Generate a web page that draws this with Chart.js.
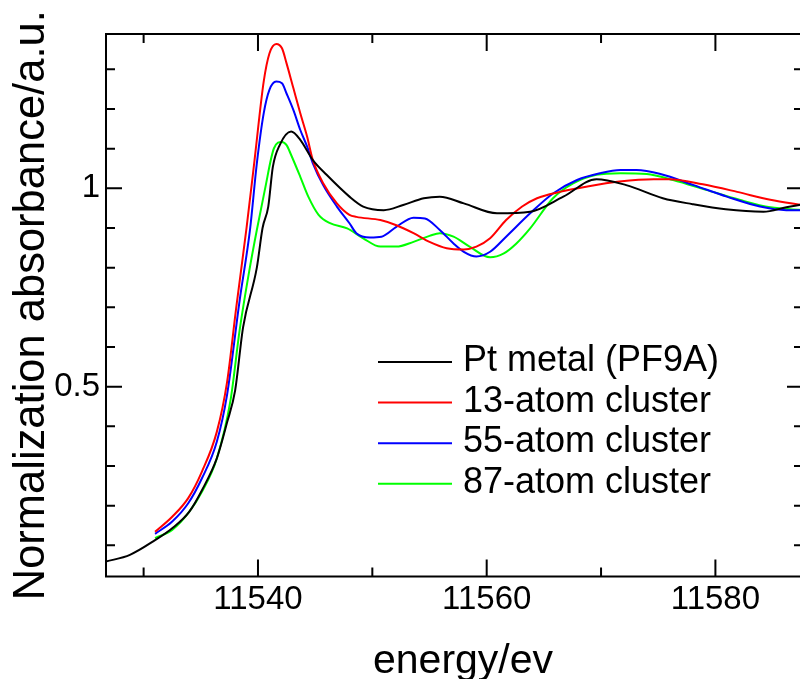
<!DOCTYPE html>
<html>
<head>
<meta charset="utf-8">
<style>
  html, body { margin: 0; padding: 0; overflow: hidden; background: #fff; }
  canvas { display: block; }
</style>
</head>
<body>
<canvas id="chart" width="803" height="680"></canvas>
<script src="https://cdn.jsdelivr.net/npm/chart.js@4.4.0/dist/chart.umd.min.js"></script>
<script>
// Pt L3-edge XANES
const metalEnergy = [11526.7, 11528.8, 11531.0, 11532.5, 11534.0, 11535.1, 11536.4, 11537.3, 11538.0, 11538.7,
  11539.9, 11540.4, 11540.9, 11541.3, 11541.9, 11542.9, 11543.7, 11544.8, 11546.0, 11548.0,
  11549.2, 11551.0, 11552.7, 11554.5, 11555.9, 11558.0, 11560.9, 11563.8, 11566.7, 11569.6,
  11572.2, 11575.4, 11578.0, 11580.9, 11584.2, 11586.2, 11587.7];
const metalAbs = [0.059, 0.076, 0.113, 0.143, 0.185, 0.239, 0.319, 0.41, 0.49, 0.65,
  0.80, 0.90, 0.954, 1.054, 1.109, 1.143, 1.122, 1.071, 1.034, 0.979,
  0.954, 0.945, 0.958, 0.975, 0.979, 0.962, 0.937, 0.941, 0.979, 1.023,
  1.008, 0.975, 0.960, 0.947, 0.941, 0.952, 0.960];

const c13Energy = [11531.0, 11532.5, 11533.9, 11535.1, 11536.4, 11537.3, 11538.1, 11539.0, 11539.7, 11540.5,
  11541.0, 11541.6, 11542.1, 11542.5, 11543.1, 11543.7, 11544.3, 11544.8, 11545.7, 11546.9,
  11548.0, 11548.6, 11550.7, 11552.1, 11553.6, 11555.0, 11556.5, 11558.0, 11559.1, 11560.3,
  11561.7, 11563.1, 11564.4, 11566.4, 11568.7, 11571.6, 11574.6, 11576.0, 11578.9, 11581.9,
  11584.8, 11587.7];
const c13Abs = [0.134, 0.172, 0.219, 0.286, 0.386, 0.512, 0.70, 0.90, 1.071, 1.269,
  1.340, 1.364, 1.353, 1.315, 1.252, 1.189, 1.130, 1.071, 1.013, 0.962,
  0.933, 0.928, 0.920, 0.907, 0.887, 0.865, 0.849, 0.846, 0.853, 0.874,
  0.920, 0.954, 0.975, 0.991, 1.004, 1.017, 1.023, 1.023, 1.010, 0.991,
  0.971, 0.957];

const c55Energy = [11531.0, 11532.5, 11533.9, 11535.1, 11536.4, 11537.3, 11538.4, 11539.3, 11539.9, 11540.5,
  11541.0, 11541.6, 11542.1, 11542.5, 11543.1, 11543.7, 11544.3, 11544.8, 11545.7, 11546.9,
  11548.0, 11548.6, 11549.8, 11550.8, 11552.1, 11553.6, 11554.6, 11555.9, 11557.1, 11558.0,
  11559.1, 11560.3, 11561.7, 11563.8, 11565.8, 11567.9, 11569.9, 11571.7, 11573.1, 11575.2,
  11578.1, 11581.0, 11583.9, 11586.2, 11587.7];
const c55Abs = [0.129, 0.160, 0.206, 0.269, 0.361, 0.48, 0.718, 0.895, 1.063, 1.189,
  1.248, 1.269, 1.265, 1.239, 1.197, 1.147, 1.105, 1.063, 1.008, 0.954,
  0.912, 0.887, 0.876, 0.878, 0.903, 0.926, 0.924, 0.895, 0.861, 0.840,
  0.828, 0.840, 0.878, 0.937, 0.987, 1.021, 1.038, 1.046, 1.046, 1.036,
  1.008, 0.979, 0.954, 0.945, 0.945];

const c87Energy = [11531.0, 11532.5, 11533.9, 11535.1, 11536.4, 11537.6, 11538.4, 11539.3, 11539.9, 11540.6,
  11541.4, 11542.1, 11542.5, 11542.9, 11543.7, 11544.4, 11545.3, 11546.3, 11547.8, 11549.2,
  11550.7, 11552.1, 11553.6, 11555.0, 11555.9, 11557.1, 11558.5, 11560.3, 11561.5, 11562.6,
  11563.8, 11565.8, 11567.6, 11569.6, 11571.7, 11574.0, 11576.3, 11579.2, 11582.1, 11584.8,
  11587.7];
const c87Abs = [0.118, 0.139, 0.181, 0.235, 0.319, 0.466, 0.643, 0.802, 0.895, 0.996,
  1.101, 1.117, 1.109, 1.084, 1.029, 0.979, 0.933, 0.912, 0.899, 0.874,
  0.853, 0.853, 0.865, 0.880, 0.887, 0.878, 0.853, 0.826, 0.836, 0.861,
  0.899, 0.975, 1.013, 1.034, 1.038, 1.036, 1.021, 0.996, 0.971, 0.952,
  0.945];

const seriesNames = ['Pt metal (PF9A)', '13-atom cluster', '55-atom cluster', '87-atom cluster'];
const seriesColors = ['#000000', '#ff0000', '#0000ff', '#00ff00'];

const xLabelTicks = [11540, 11560, 11580];
const xMinorTicks = [11530, 11550, 11570];
const yLabelTicks = [0.5, 1];
const yMinorTicks = [0.1, 0.2, 0.3, 0.4, 0.6, 0.7, 0.8, 0.9, 1.1, 1.2, 1.3];

const xTitle = 'energy/ev';
const yTitle = 'Normalization absorbance/a.u.';

const toPoints = (xs, ys) => xs.map((v, i) => ({ x: v, y: ys[i] }));

const FONT = "'Liberation Sans', Arial, sans-serif";

// box frame with inward ticks on all four sides
const frameTicks = {
  id: 'frameTicks',
  afterDatasetsDraw(chart) {
    const { ctx, chartArea: a, scales: { x, y } } = chart;
    ctx.save();
    ctx.strokeStyle = '#000';
    ctx.lineWidth = 2;
    ctx.strokeRect(a.left, a.top, a.right - a.left, a.bottom - a.top);
    ctx.beginPath();
    const xMark = (v, len) => {
      const px = x.getPixelForValue(v);
      ctx.moveTo(px, a.bottom); ctx.lineTo(px, a.bottom - len);
      ctx.moveTo(px, a.top); ctx.lineTo(px, a.top + len);
    };
    const yMark = (v, len) => {
      const py = y.getPixelForValue(v);
      ctx.moveTo(a.left, py); ctx.lineTo(a.left + len, py);
      ctx.moveTo(a.right, py); ctx.lineTo(a.right - len, py);
    };
    xLabelTicks.forEach(v => xMark(v, 17));
    xMinorTicks.forEach(v => xMark(v, 9));
    yLabelTicks.forEach(v => yMark(v, 16));
    yMinorTicks.forEach(v => yMark(v, 9));
    ctx.stroke();
    ctx.restore();
  }
};

// legend inside the plot, x-axis title under the labels
const insideLegend = {
  id: 'insideLegend',
  afterDraw(chart) {
    const { ctx } = chart;
    ctx.save();
    ctx.font = '36px ' + FONT;
    ctx.textBaseline = 'middle';
    ctx.textAlign = 'left';
    chart.data.datasets.forEach((ds, i) => {
      const yy = 362 + i * 40.6;
      ctx.strokeStyle = ds.borderColor;
      ctx.lineWidth = 2;
      ctx.beginPath();
      ctx.moveTo(378, yy);
      ctx.lineTo(452, yy);
      ctx.stroke();
      ctx.fillStyle = '#000';
      ctx.fillText(ds.label, 463, yy - 1);
    });
    ctx.font = '41px ' + FONT;
    ctx.textAlign = 'center';
    ctx.textBaseline = 'alphabetic';
    ctx.fillText(xTitle, 463, 673);
    ctx.restore();
  }
};

const datasets = [
  toPoints(metalEnergy, metalAbs),
  toPoints(c13Energy, c13Abs),
  toPoints(c55Energy, c55Abs),
  toPoints(c87Energy, c87Abs)
].map((pts, i) => ({
  label: seriesNames[i],
  data: pts,
  borderColor: seriesColors[i],
  backgroundColor: seriesColors[i],
  borderWidth: 2,
  pointRadius: 0,
  fill: false,
  cubicInterpolationMode: 'monotone'
}));

new Chart(document.getElementById('chart'), {
  type: 'line',
  data: { datasets: datasets },
  options: {
    responsive: false,
    animation: false,
    layout: { padding: { top: 34, left: 0, right: 0, bottom: 0 } },
    plugins: { legend: { display: false }, tooltip: { enabled: false } },
    scales: {
      x: {
        type: 'linear',
        min: 11526.71,
        max: 11587.66,
        afterBuildTicks: (s) => { s.ticks = xLabelTicks.map(v => ({ value: v })); },
        afterFit: (s) => { s.height = 103.5; },
        grid: { display: false, drawTicks: false },
        border: { display: false },
        ticks: { color: '#000', padding: 4, font: { family: FONT, size: 33 }, callback: (v) => String(v), maxRotation: 0 },
        title: { display: false }
      },
      y: {
        type: 'linear',
        min: 0.0214,
        max: 1.389,
        afterBuildTicks: (s) => { s.ticks = yLabelTicks.map(v => ({ value: v })); },
        afterFit: (s) => { s.width = 106; },
        grid: { display: false, drawTicks: false },
        border: { display: false },
        ticks: { color: '#000', padding: 6, font: { family: FONT, size: 33 }, callback: (v) => String(v) },
        title: { display: true, text: yTitle, color: '#000', padding: { top: 10, bottom: 0 }, font: { family: FONT, size: 43.5, lineHeight: 1 } }
      }
    }
  },
  plugins: [frameTicks, insideLegend]
});
</script>
</body>
</html>
